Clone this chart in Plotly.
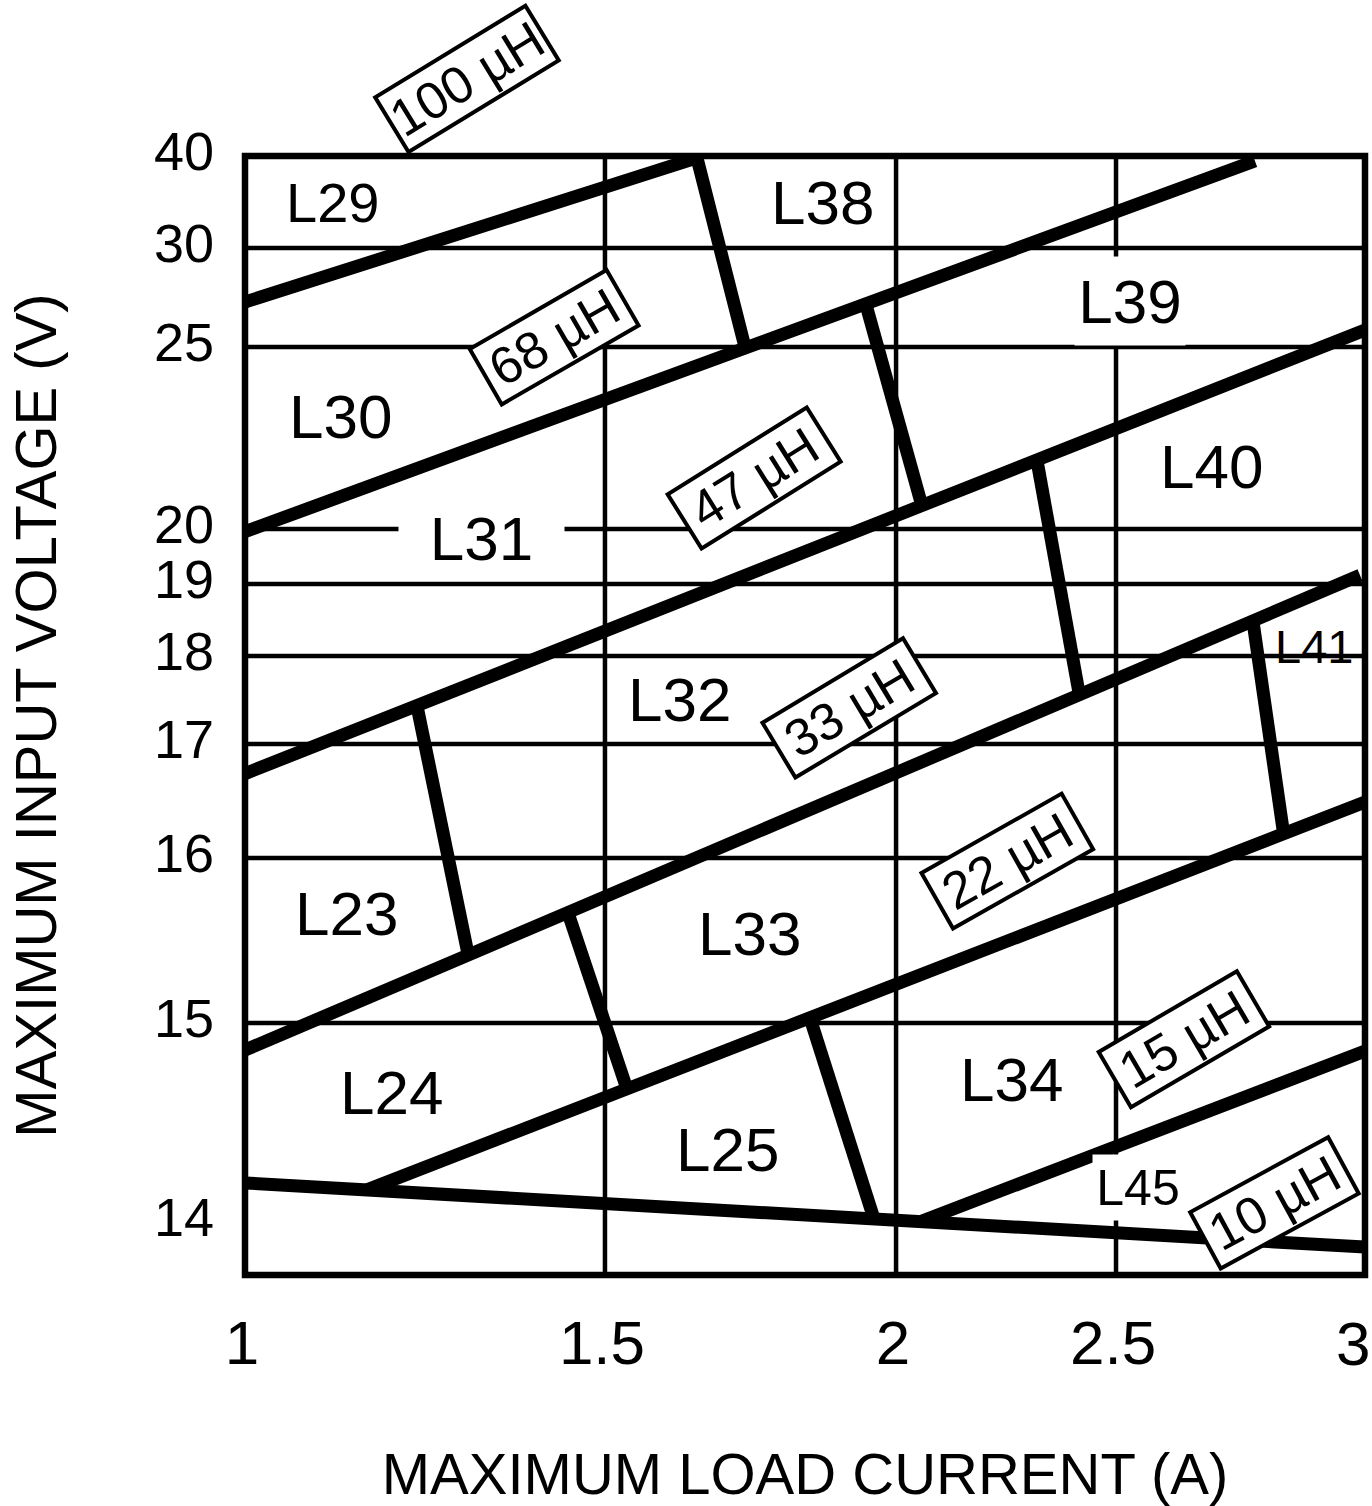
import numpy as np
import plotly.graph_objects as go

# ---------------- axis scales (non-linear, as in the original chart) ----------------
CURRENT_TICKS = [1, 1.5, 2, 2.5, 3]
CURRENT_TICK_LABELS = ["1", "1.5", "2", "2.5", "3"]
CURRENT_SCALE_POS = [0.0, 0.3214, 0.5813, 0.7777, 1.0]

VOLTAGE_TICKS = [14, 15, 16, 17, 18, 19, 20, 25, 30, 40]
VOLTAGE_TICK_LABELS = ["14", "15", "16", "17", "18", "19", "20", "25", "30", "40"]
VOLTAGE_SCALE_V = [13.734, 14, 15, 16, 17, 18, 19, 20, 25, 30, 40]
VOLTAGE_SCALE_POS = [0.0, 0.0474, 0.2252, 0.3727, 0.4745, 0.5532, 0.6175, 0.6667, 0.8293, 0.9178, 1.0]

GRID_CURRENTS = [1.5, 2, 2.5]
GRID_VOLTAGES = [15, 16, 17, 18, 19, 20, 25, 30]

# ---------------- inductance boundaries (current A, voltage V) ----------------
B100_68_CURRENT = [1.0, 1.658, 1.7405]
B100_68_VOLTAGE = [27.27, 39.8, 25.0]

B68_47_CURRENT = [1.0, 2.779]
B68_47_VOLTAGE = [19.95, 39.46]
S68_CURRENT = [1.948, 2.059]
S68_VOLTAGE = [27.17, 20.63]

B47_33_CURRENT = [1.0, 3.0]
B47_33_VOLTAGE = [16.74, 25.86]
S47A_CURRENT = [1.2389, 1.3097]
S47A_VOLTAGE = [17.432, 15.42]
S47B_CURRENT = [2.3205, 2.4159]
S47B_VOLTAGE = [21.868, 17.58]

B33_22_CURRENT = [1.0, 2.99]
B33_22_VOLTAGE = [14.864, 19.16]
S33A_CURRENT = [1.4486, 1.5378]
S33A_VOLTAGE = [15.668, 14.668]
S33B_CURRENT = [2.7749, 2.8367]
S33B_VOLTAGE = [18.486, 16.21]

B22_15_CURRENT = [1.1694, 3.0]
B22_15_VOLTAGE = [14.161, 16.491]
S22_CURRENT = [1.8522, 1.9622]
S22_VOLTAGE = [15.03, 14.015]

B_LOW_CURRENT = [1.0, 3.0]
B_LOW_VOLTAGE = [14.196, 13.874]

B15_10_CURRENT = [2.0591, 3.0]
B15_10_VOLTAGE = [14.005, 14.859]

BOUNDARIES = [
    (B100_68_CURRENT, B100_68_VOLTAGE),
    (B68_47_CURRENT, B68_47_VOLTAGE), (S68_CURRENT, S68_VOLTAGE),
    (B47_33_CURRENT, B47_33_VOLTAGE), (S47A_CURRENT, S47A_VOLTAGE), (S47B_CURRENT, S47B_VOLTAGE),
    (B33_22_CURRENT, B33_22_VOLTAGE), (S33A_CURRENT, S33A_VOLTAGE), (S33B_CURRENT, S33B_VOLTAGE),
    (B22_15_CURRENT, B22_15_VOLTAGE), (S22_CURRENT, S22_VOLTAGE),
    (B_LOW_CURRENT, B_LOW_VOLTAGE),
    (B15_10_CURRENT, B15_10_VOLTAGE),
]

REGION_NAMES = ["L29", "L38", "L39", "L30", "L31", "L40", "L32", "L41",
                "L23", "L33", "L24", "L25", "L34", "L45"]
INDUCTANCE_LABELS = ["100 µH", "68 µH", "47 µH", "33 µH", "22 µH", "15 µH", "10 µH"]


def cx(values):
    return np.interp(values, CURRENT_TICKS, CURRENT_SCALE_POS).tolist()


def vy(values):
    return np.interp(values, VOLTAGE_SCALE_V, VOLTAGE_SCALE_POS).tolist()


FONT = "Liberation Sans, Arial, sans-serif"

fig = go.Figure()
for cur, volt in BOUNDARIES:
    fig.add_trace(go.Scatter(x=cx(cur), y=vy(volt), mode="lines",
                             line=dict(color="black", width=13),
                             hoverinfo="skip", showlegend=False))

shapes = []
for c in GRID_CURRENTS:
    p = cx([c])[0]
    shapes.append(dict(type="line", xref="x", yref="y", x0=p, x1=p, y0=0, y1=1,
                       line=dict(color="black", width=4.5), layer="below"))
for v in GRID_VOLTAGES:
    p = vy([v])[0]
    shapes.append(dict(type="line", xref="x", yref="y", x0=0, x1=1, y0=p, y1=p,
                       line=dict(color="black", width=4.5), layer="below"))
shapes.append(dict(type="rect", xref="paper", yref="paper", x0=0, x1=1, y0=0, y1=1,
                   line=dict(color="black", width=6.5), layer="above"))

# region label placement (paper fractions), size, white-backed box
region_layout = [
    (0.0784, 0.958, 56, None), (0.5152, 0.958, 62, None), (0.7906, 0.8705, 62, (110, 88)),
    (0.0856, 0.767, 62, None), (0.2112, 0.659, 62, (165, 50)), (0.8627, 0.7223, 62, None),
    (0.3877, 0.5143, 62, None), (0.9545, 0.5616, 47, None), (0.0909, 0.3232, 62, None),
    (0.4501, 0.3054, 62, None), (0.1310, 0.1634, 62, None), (0.4305, 0.1125, 62, None),
    (0.6845, 0.175, 62, None), (0.7977, 0.0786, 50, (90, 65)),
]
annotations = []
for name, (px, py, size, box) in zip(REGION_NAMES, region_layout):
    a = dict(text=name, xref="paper", yref="paper", x=px, y=py, showarrow=False,
             xanchor="center", yanchor="middle", font=dict(family=FONT, size=size, color="black"))
    if box:
        a.update(bgcolor="white", width=box[0], height=box[1], borderpad=0)
    annotations.append(a)

box_layout = [
    (0.198, 1.0688, -31.4, 180), (0.2763, 0.8384, -30, 162), (0.4545, 0.7125, -32, 168),
    (0.5392, 0.5071, -31, 168), (0.6809, 0.3696, -29.5, 165), (0.8387, 0.2107, -30.3, 164),
    (0.9189, 0.0643, -28.5, 161),
]
for label, (px, py, ang, length) in zip(INDUCTANCE_LABELS, box_layout):
    annotations.append(dict(text=label, xref="paper", yref="paper", x=px, y=py,
                            showarrow=False, xanchor="center", yanchor="middle",
                            textangle=ang, bgcolor="white", bordercolor="black",
                            borderwidth=4, borderpad=0, width=length - 8, height=60,
                            font=dict(family=FONT, size=52, color="black")))

# the last current tick label sits flush with the right edge of the figure
annotations.append(dict(text=CURRENT_TICK_LABELS[-1], xref="paper", yref="paper",
                        x=1.0062, y=-0.0608, showarrow=False, xanchor="right",
                        yanchor="middle", font=dict(family=FONT, size=62, color="black")))

fig.update_layout(
    width=1372, height=1506,
    margin=dict(l=245, r=7, t=156, b=231, autoexpand=False),
    paper_bgcolor="white", plot_bgcolor="white",
    shapes=shapes, annotations=annotations, showlegend=False,
    xaxis=dict(range=[0, 1], tickvals=cx(CURRENT_TICKS),
               ticktext=CURRENT_TICK_LABELS[:-1] + [""],
               showgrid=False, zeroline=False, showline=False, ticks="",
               tickfont=dict(family=FONT, size=62, color="black"),
               ticklabelstandoff=26, ticklabelshift=-3,
               title=dict(text="MAXIMUM LOAD CURRENT (A)", standoff=104,
                          font=dict(family=FONT, size=58, color="black"))),
    yaxis=dict(range=[0, 1], tickvals=vy(VOLTAGE_TICKS), ticktext=VOLTAGE_TICK_LABELS,
               showgrid=False, zeroline=False, showline=False, ticks="",
               tickfont=dict(family=FONT, size=54, color="black"),
               ticklabelstandoff=30, ticklabelshift=-5,
               title=dict(text="MAXIMUM INPUT VOLTAGE (V)", standoff=78,
                          font=dict(family=FONT, size=58, color="black"))),
)

# remove the default 8 px page margin so the figure fills the window exactly
fig.write_html("out.html", config={"displayModeBar": False},
               post_script="document.body.style.margin='0px';"
                           "document.documentElement.style.overflow='hidden';")
